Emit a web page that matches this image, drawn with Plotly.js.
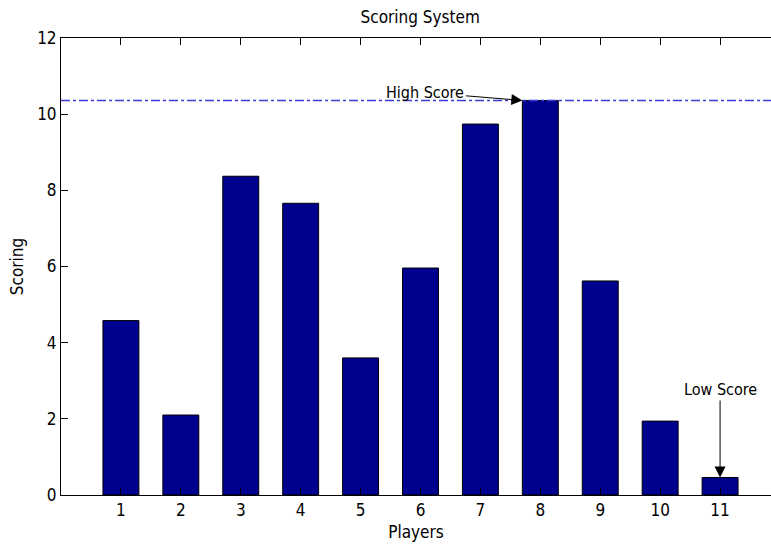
<!DOCTYPE html>
<html>
<head>
<meta charset="utf-8">
<script src="https://cdn.plot.ly/plotly-3.0.1.min.js"></script>
<style>html,body{margin:0;padding:0;background:#fff;}#chart{width:771px;height:548px;}</style>
</head>
<body>
<div id="chart"></div>
<script>
const players = [1, 2, 3, 4, 5, 6, 7, 8, 9, 10, 11];
const scores = [4.58, 2.1, 8.37, 7.66, 3.6, 5.96, 9.74, 10.36, 5.62, 1.94, 0.46];
const yTicks = [0, 2, 4, 6, 8, 10, 12];

const FONT = "'Liberation Sans Narrow', 'DejaVu Sans Condensed', 'Liberation Sans', sans-serif";
const maxScore = Math.max(...scores);
const minScore = Math.min(...scores);
const maxIdx = scores.indexOf(maxScore);
const minIdx = scores.indexOf(minScore);

const trace = {
  type: 'bar',
  x: players,
  y: scores,
  width: 0.6,
  marker: {color: '#00008f', line: {color: '#000000', width: 1}},
  hoverinfo: 'skip'
};

const layout = {
  width: 771, height: 548,
  margin: {l: 61, r: 0, t: 38, b: 53},
  paper_bgcolor: '#ffffff', plot_bgcolor: '#ffffff',
  showlegend: false,
  font: {family: FONT, size: 16, color: '#000'},
  title: {text: 'Scoring System', x: 0.545, xanchor: 'center', y: 0.968, yanchor: 'middle',
          font: {family: FONT, size: 17, color: '#000'}},
  xaxis: {
    range: [0, 11.85], tickvals: players, ticktext: players.map(String),
    ticks: 'inside', ticklen: 7, tickcolor: '#000', showline: true, linecolor: '#000', linewidth: 1,
    mirror: 'ticks', showgrid: false, zeroline: false,
    tickfont: {family: FONT, size: 17},
    title: {text: 'Players', font: {family: FONT, size: 17}, standoff: 6}
  },
  yaxis: {
    range: [0, 12], tickvals: yTicks, ticktext: yTicks.map(String),
    ticks: 'inside', ticklen: 7, tickcolor: '#000', showline: true, linecolor: '#000', linewidth: 1,
    showgrid: false, zeroline: false,
    tickfont: {family: FONT, size: 17},
    title: {text: 'Scoring', font: {family: FONT, size: 17}, standoff: 9}
  },
  shapes: [{
    type: 'line', xref: 'paper', x0: 0, x1: 1, yref: 'y', y0: maxScore, y1: maxScore,
    line: {color: '#3a3ad6', width: 1.5, dash: 'dashdot'}
  }],
  annotations: [
    {x: players[maxIdx] - 0.3, y: maxScore, xref: 'x', yref: 'y', text: 'High Score',
     showarrow: true, arrowhead: 2, arrowsize: 2.2, arrowwidth: 1, arrowcolor: '#000',
     ax: -97, ay: -8, font: {family: FONT, size: 16}},
    {x: players[minIdx], y: minScore, xref: 'x', yref: 'y', text: 'Low Score',
     showarrow: true, arrowhead: 2, arrowsize: 2.2, arrowwidth: 1, arrowcolor: '#000',
     ax: 0, ay: -88, font: {family: FONT, size: 16}}
  ]
};

Plotly.newPlot('chart', [trace], layout, {displayModeBar: false, staticPlot: true});
</script>
</body>
</html>
